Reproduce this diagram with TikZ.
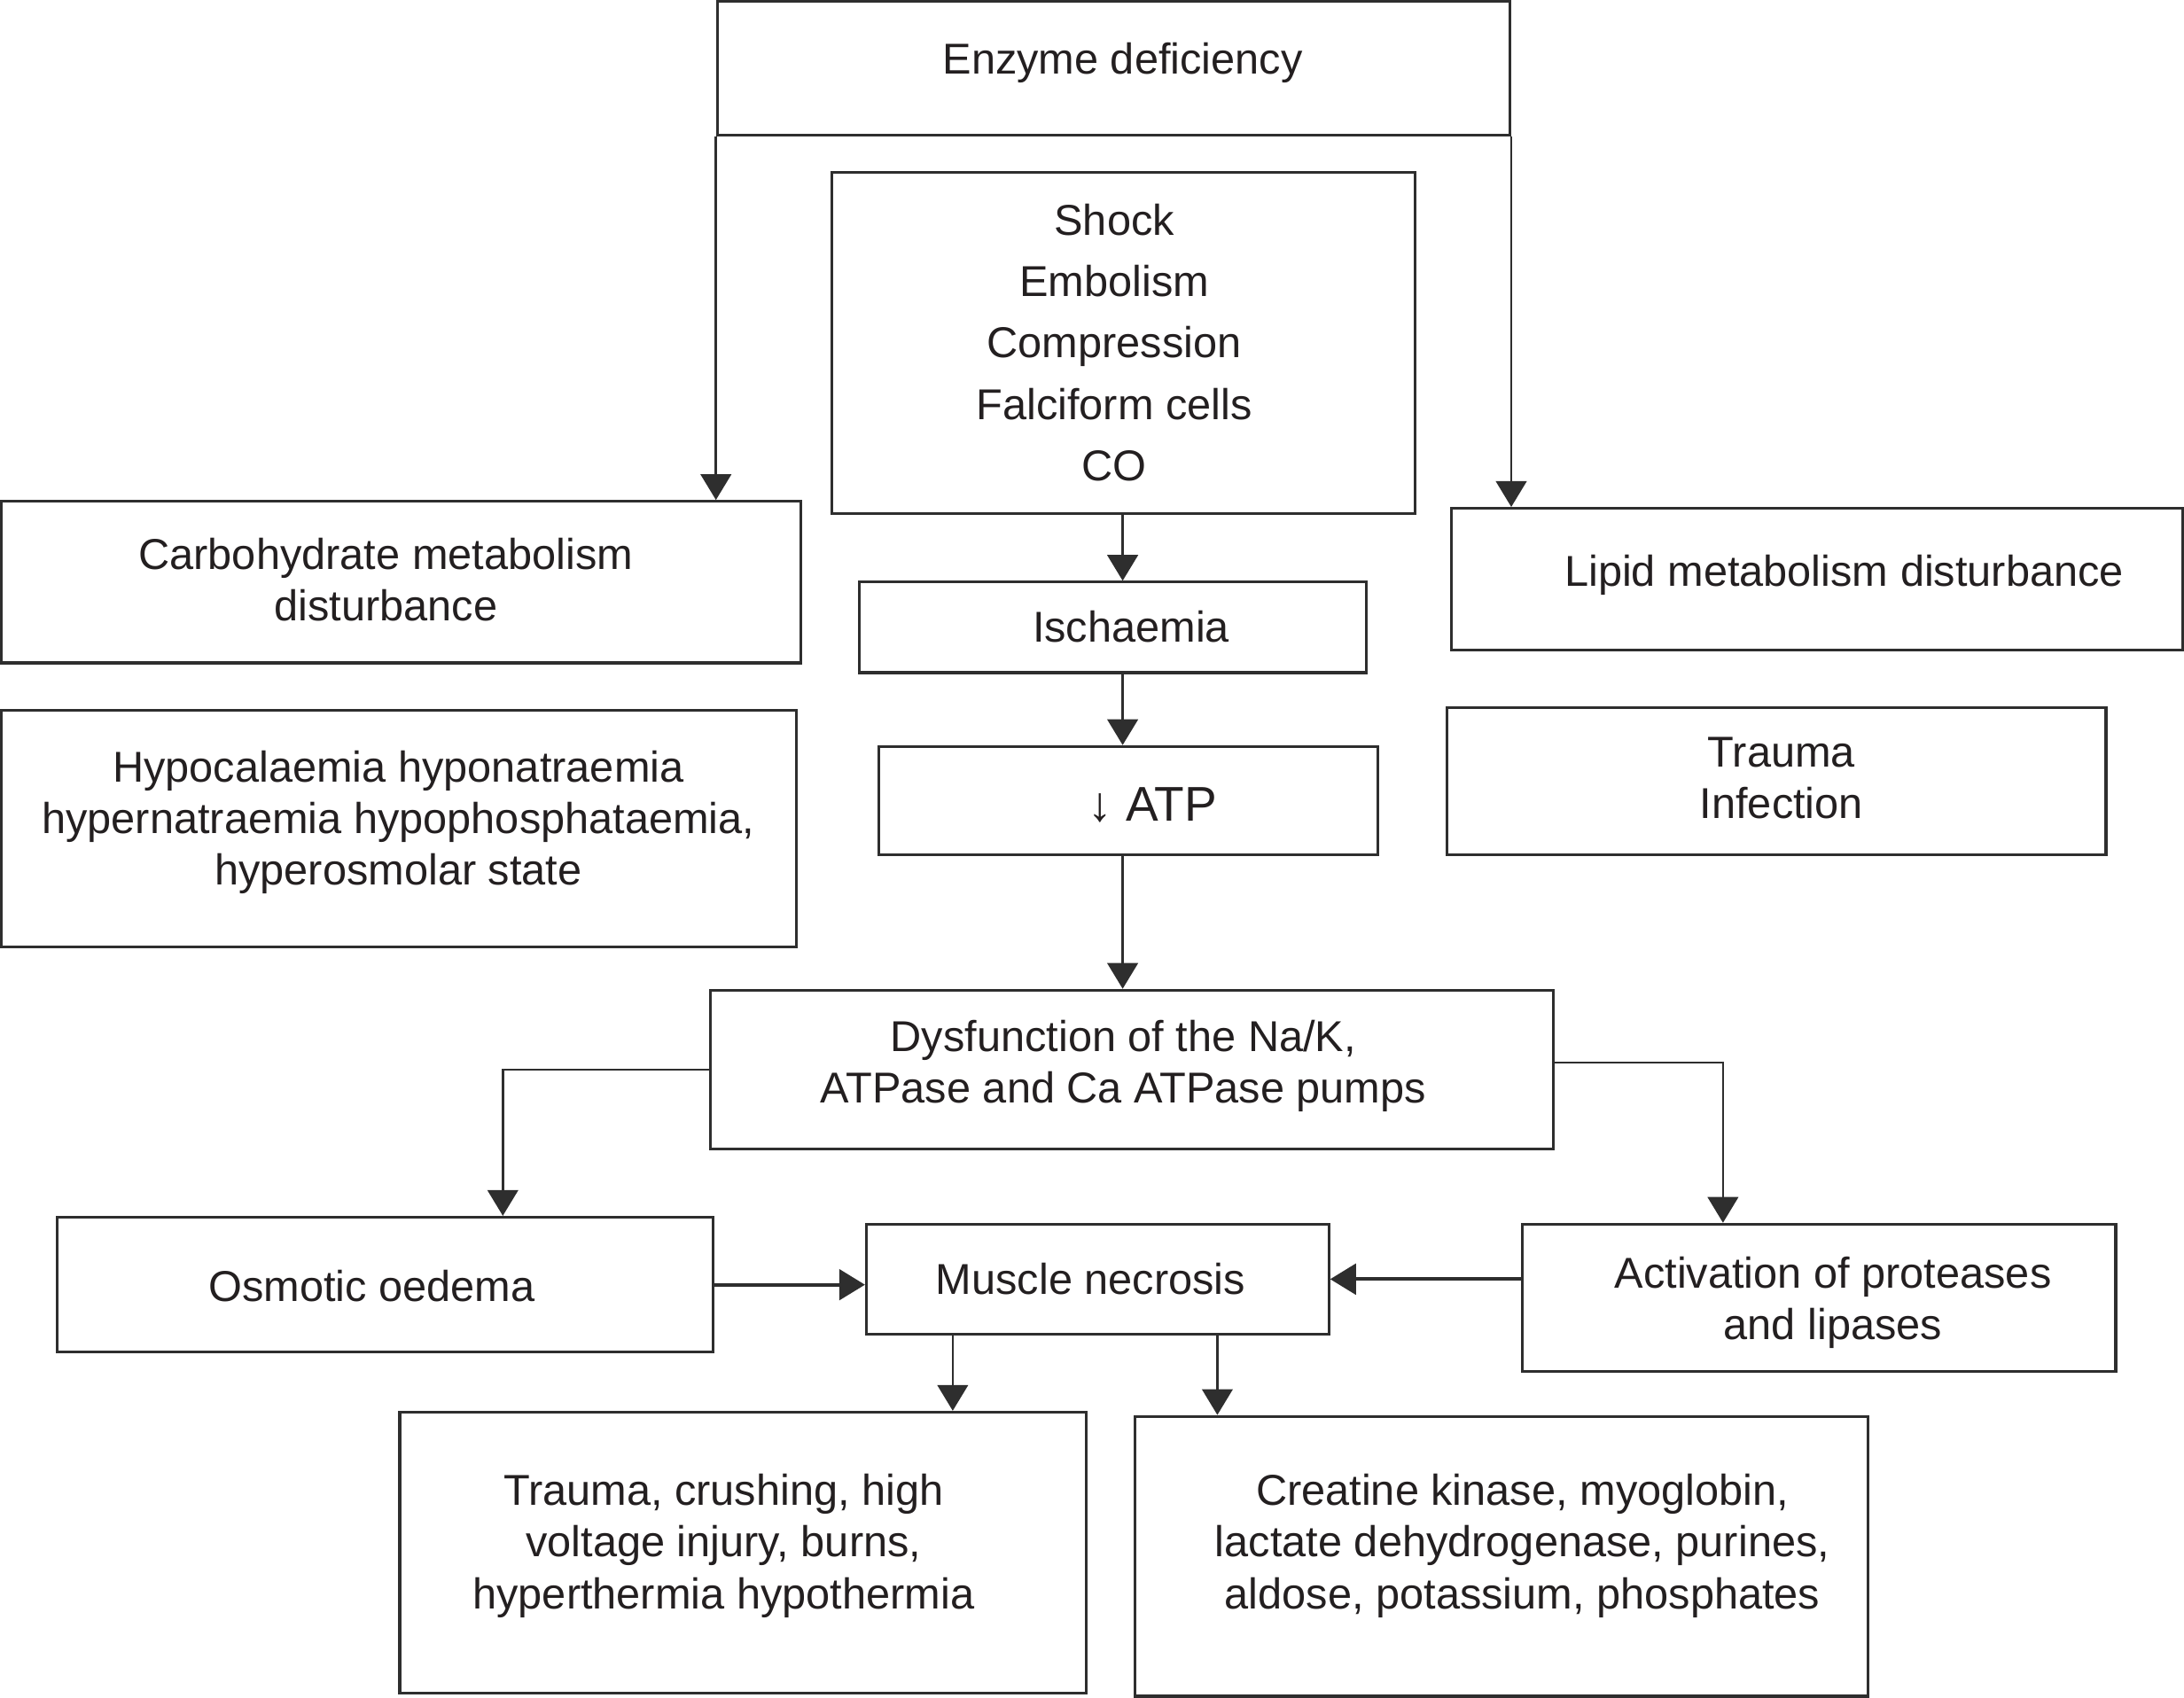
\documentclass[tikz,border=0pt]{standalone}
\usepackage{fontspec}
\setmainfont{Liberation Sans}
\usetikzlibrary{arrows.meta}
\definecolor{ink}{HTML}{231F20}
\definecolor{linegray}{HTML}{2E2E2E}
\begin{document}
\begin{tikzpicture}[x=1pt,y=-1pt,
  box/.style={draw=linegray,line width=2pt,inner sep=0pt,rectangle},
  txt/.style={text=ink,align=center,inner sep=0pt,font=\fontsize{31}{37}\selectfont},
  arr/.style={draw=linegray,line width=1.6pt,-{Triangle[length=18.5pt,width=22pt]}},
  thickarr/.style={arr,line width=2.4pt}
]
\useasboundingbox (0,0) rectangle (1568,1219);
% boxes
\node[box,minimum width=569pt,minimum height=96pt] (enz) at (799.5,49) {};
\node[box,minimum width=419pt,minimum height=245pt] (shock) at (806.5,246.5) {};
\node[box,minimum width=574pt,minimum height=116pt] (carbo) at (288,418) {};
\node[box,minimum width=525pt,minimum height=102pt] (lipid) at (1304.5,416) {};
\node[box,minimum width=364pt,minimum height=65pt] (isch) at (799,450.5) {};
\node[box,minimum width=358pt,minimum height=78pt] (atp) at (810,575) {};
\node[box,minimum width=571pt,minimum height=170pt] (hypo) at (286.5,595) {};
\node[box,minimum width=473pt,minimum height=106pt] (trinf) at (1275.5,561) {};
\node[box,minimum width=605pt,minimum height=114pt] (dys) at (812.5,768) {};
\node[box,minimum width=471pt,minimum height=97pt] (osm) at (276.5,922.5) {};
\node[box,minimum width=332pt,minimum height=79pt] (mus) at (788,918.5) {};
\node[box,minimum width=426pt,minimum height=106pt] (act) at (1306,932) {};
\node[box,minimum width=493pt,minimum height=202pt] (trcr) at (533.5,1115) {};
\node[box,minimum width=526pt,minimum height=201pt] (creat) at (1078,1117.5) {};
% texts
\node[txt,anchor=base] (enz-t) at (806,53) {Enzyme deficiency};
\node[txt,font=\fontsize{31}{44}\selectfont] (shock-t) at (800,246) {Shock\\Embolism\\Compression\\Falciform cells\\CO};
\node[txt] (carbo-t) at (277,416) {Carbohydrate metabolism\\disturbance};
\node[txt] (lipid-t) at (1324,413) {Lipid metabolism disturbance};
\node[txt] (isch-t) at (812,450) {Ischaemia};
\node[txt,font=\fontsize{35}{40}\selectfont] (atp-t) at (827.5,578) {↓ ATP};
\node[txt] (hypo-t) at (286,590.5) {Hypocalaemia hyponatraemia\\hypernatraemia hypophosphataemia,\\hyperosmolar state};
\node[txt] (trinf-t) at (1279,558.5) {Trauma\\Infection};
\node[txt] (dys-t) at (806.5,765.5) {Dysfunction of the Na/K,\\ATPase and Ca ATPase pumps};
\node[txt] (osm-t) at (267,923.5) {Osmotic oedema};
\node[txt] (mus-t) at (783,918.5) {Muscle necrosis};
\node[txt] (act-t) at (1316,935.5) {Activation of proteases\\and lipases};
\node[txt] (trcr-t) at (519.5,1110) {Trauma, crushing, high\\voltage injury, burns,\\hyperthermia hypothermia};
\node[txt] (creat-t) at (1093,1110) {Creatine kinase, myoglobin,\\lactate dehydrogenase, purines,\\aldose, potassium, phosphates};
% connectors
\coordinate (col) at (806,0);
\draw[arr] (enz.south west) -- (enz.south west |- carbo.north);
\draw[arr] (enz.south east) -- (enz.south east |- lipid.north);
\draw[arr] (col |- shock.south) -- (col |- isch.north);
\draw[arr] (col |- isch.south) -- (col |- atp.north);
\draw[arr] (col |- atp.south) -- (col |- dys.north);
\draw[arr] (dys.west) -| ([xshift=321pt]osm.north west);
\draw[arr] ([yshift=5pt]dys.east) -| ([xshift=145pt]act.north west);
\draw[thickarr] (osm.east) -- (osm.east -| mus.west);
\draw[thickarr] (mus.east -| act.west) -- (mus.east);
\draw[arr] ([xshift=63pt]mus.south west) -- ([xshift=63pt]mus.south west |- trcr.north);
\draw[arr] ([xshift=253pt]mus.south west) -- ([xshift=253pt]mus.south west |- creat.north);
\end{tikzpicture}
\end{document}
